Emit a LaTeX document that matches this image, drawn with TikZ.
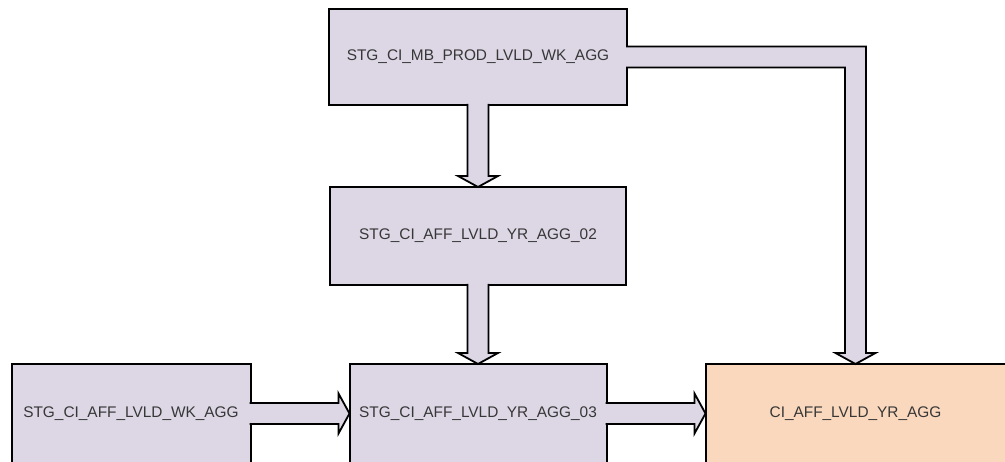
\documentclass[tikz,border=0pt]{standalone}
\usepackage{fontspec}
\setmainfont{Liberation Sans}
\usetikzlibrary{positioning, calc}
\definecolor{stgfill}{RGB}{220,214,229}
\definecolor{aggfill}{RGB}{250,216,189}
\definecolor{labelgray}{RGB}{55,55,55}
\tikzset{
  stgbox/.style   = {draw=black, line width=2pt, fill=stgfill, outer sep=0pt,
                     minimum height=97pt, text=labelgray, font=\fontsize{15.4}{18}\selectfont},
  aggbox/.style   = {stgbox, fill=aggfill},
  blockarr/.style = {draw=black, line width=1.8pt, fill=stgfill, line join=miter},
}
\newcommand{\vlink}[2]{%
  \draw[blockarr] ($(#1.south)+(-10.5,1)$) -- ($(#2.north)+(-10.5,11)$)
    -- ($(#2.north)+(-20,11)$) -- (#2.north) -- ($(#2.north)+(20,11)$)
    -- ($(#2.north)+(10.5,11)$) -- ($(#1.south)+(10.5,1)$);}
\newcommand{\hlink}[2]{%
  \draw[blockarr] ($(#1.east)+(-1,10.5)$) -- ($(#2.west)+(-11,10.5)$)
    -- ($(#2.west)+(-11,20)$) -- (#2.west) -- ($(#2.west)+(-11,-20)$)
    -- ($(#2.west)+(-11,-10.5)$) -- ($(#1.east)+(-1,-10.5)$);}
\begin{document}
\begin{tikzpicture}[x=1pt, y=1pt]
  \useasboundingbox (0,0) rectangle (1005,-462);
  \node[stgbox, minimum width=298pt, minimum height=96pt] (mbprod) at (478,-57) {STG\_CI\_MB\_PROD\_LVLD\_WK\_AGG};
  \node[stgbox, minimum width=296pt, minimum height=98pt, below=82pt of mbprod] (yr02) {STG\_CI\_AFF\_LVLD\_YR\_AGG\_02};
  \node[stgbox, minimum width=257pt, minimum height=99pt, below=79pt of yr02] (yr03) {STG\_CI\_AFF\_LVLD\_YR\_AGG\_03};
  \node[stgbox, minimum width=239pt, minimum height=99pt, left=99pt of yr03] (wkagg) {STG\_CI\_AFF\_LVLD\_WK\_AGG};
  \node[aggbox, minimum width=300pt, minimum height=99pt, right=99pt of yr03] (target) {CI\_AFF\_LVLD\_YR\_AGG};
  \vlink{mbprod}{yr02}
  \vlink{yr02}{yr03}
  \hlink{wkagg}{yr03}
  \hlink{yr03}{target}
  \coordinate (bend) at (target.north |- mbprod.east);
  \draw[blockarr] ($(mbprod.east)+(-1,10.5)$) -- ($(bend)+(10.5,10.5)$)
    -- ($(target.north)+(10.5,11)$) -- ($(target.north)+(20,11)$) -- (target.north)
    -- ($(target.north)+(-20,11)$) -- ($(target.north)+(-10.5,11)$)
    -- ($(bend)+(-10.5,-10.5)$) -- ($(mbprod.east)+(-1,-10.5)$);
\end{tikzpicture}
\end{document}
